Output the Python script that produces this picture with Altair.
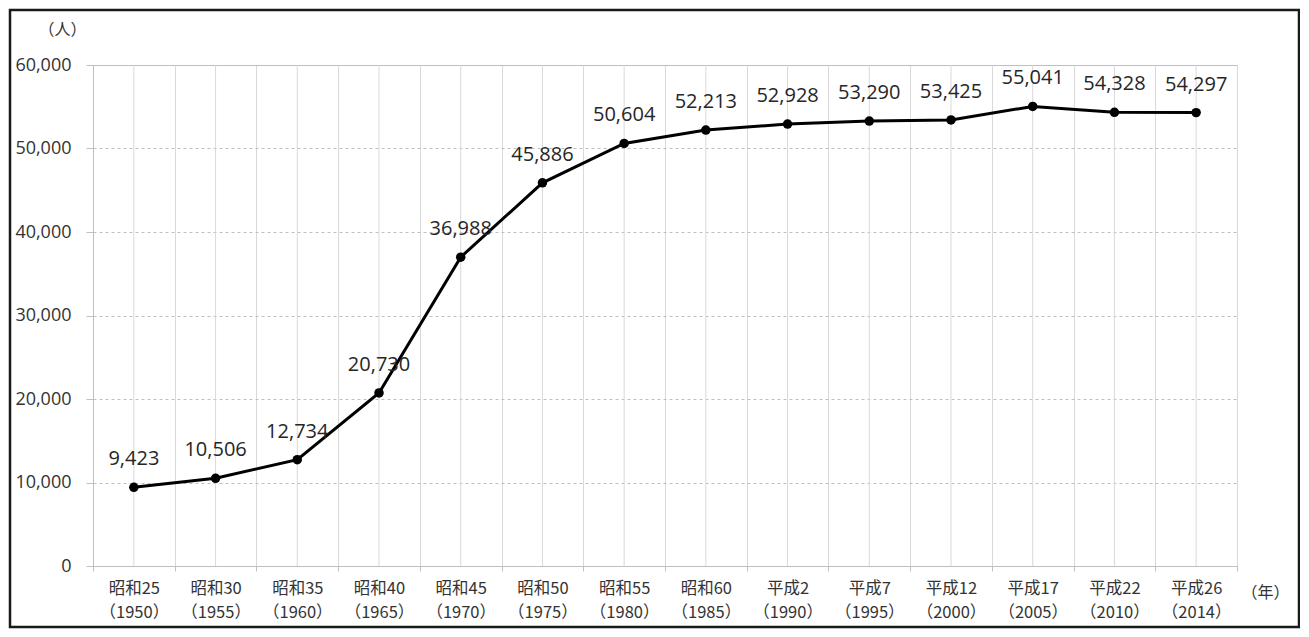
import altair as alt
import pandas as pd

labels = ["昭和25|（1950）", "昭和30|（1955）", "昭和35|（1960）", "昭和40|（1965）",
          "昭和45|（1970）", "昭和50|（1975）", "昭和55|（1980）", "昭和60|（1985）",
          "平成2|（1990）", "平成7|（1995）", "平成12|（2000）", "平成17|（2005）",
          "平成22|（2010）", "平成26|（2014）"]
population = [9423, 10506, 12734, 20730, 36988, 45886, 50604, 52213,
              52928, 53290, 53425, 55041, 54328, 54297]
y_ticks = [0, 10000, 20000, 30000, 40000, 50000, 60000]

df = pd.DataFrame({"label": labels, "pop": population})

W, H = 1144, 501
xscale = alt.Scale(type="band", paddingInner=0, paddingOuter=0)
yscale = alt.Scale(domain=[0, 60000])

x_axis = alt.Axis(
    title="（年）", titleAngle=0, titleX=1172, titleY=18, titleAlign="center",
    titleBaseline="top", titleFont="Noto Sans CJK JP", titleFontSize=16,
    titleFontWeight="normal", titleColor="#333333",
    labelAngle=0, labelExpr="split(datum.label, '|')", labelFont="Noto Sans CJK JP",
    labelFontSize=16.5, labelLineHeight=24, labelColor="#333333", labelPadding=9,
    tickBand="extent", tickSize=5, tickColor="#bfbfbf",
    domainColor="#bfbfbf", grid=True, gridColor="#d9d9d9", gridWidth=1,
)
y_axis = alt.Axis(
    title="（人）", titleAngle=0, titleX=-31, titleY=-36, titleAlign="center",
    titleBaseline="middle", titleFont="Noto Sans CJK JP", titleFontSize=16,
    titleFontWeight="normal", titleColor="#333333",
    values=y_ticks, labelExpr="format(datum.value, ',')", labelFont="Open Sans",
    labelFontSize=18, labelColor="#333333", labelPadding=15, tickSize=7,
    tickColor="#bfbfbf", domainColor="#bfbfbf",
    grid=True, gridColor="#bfbfbf", gridDash=[3, 3],
)

base = alt.Chart(df)

centers = base.mark_rule(color="#d9d9d9", strokeWidth=1).encode(
    x=alt.X("label:N", sort=None, scale=xscale, axis=x_axis),
)
line = base.mark_line(color="black", strokeWidth=3).encode(
    x=alt.X("label:N", sort=None, scale=xscale),
    y=alt.Y("pop:Q", scale=yscale, axis=y_axis),
)
points = base.mark_point(filled=True, color="black", size=90, opacity=1).encode(
    x=alt.X("label:N", sort=None, scale=xscale),
    y=alt.Y("pop:Q", scale=yscale),
)
text = base.mark_text(dy=-28, font="Open Sans", fontSize=20, color="#262626").encode(
    x=alt.X("label:N", sort=None, scale=xscale),
    y=alt.Y("pop:Q", scale=yscale),
    text=alt.Text("pop:Q", format=","),
)
border = alt.Chart(pd.DataFrame({"a": [0]})).mark_rect(
    fill=None, stroke="#1a1a1a", strokeWidth=2.5, clip=False
).encode(
    x=alt.value(-83), x2=alt.value(1206), y=alt.value(-55), y2=alt.value(562),
)

chart = alt.layer(centers, line, points, text, border).properties(
    width=W, height=H,
    autosize=alt.AutoSizeParams(type="none"),
    padding={"left": 85, "top": 57, "right": 63, "bottom": 63},
).configure_view(stroke="#bfbfbf", strokeWidth=1)

chart.save("out.html", embed_options={"renderer": "svg", "actions": False})
